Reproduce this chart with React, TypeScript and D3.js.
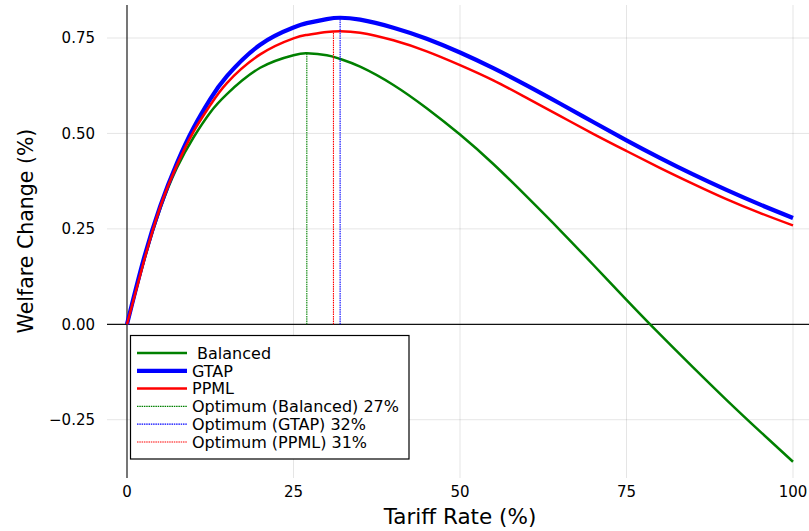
import React from "react";
import * as d3 from "d3";

const tariff = [0, 2.5, 5, 7.5, 10, 12.5, 15, 20, 25, 27, 30, 32, 35, 40, 45, 50, 55, 60, 65, 70, 75, 80, 85, 90, 95, 100];
const balanced = [0, 0.163, 0.303, 0.41, 0.49, 0.555, 0.603, 0.672, 0.705, 0.71, 0.705, 0.695, 0.675, 0.627, 0.566, 0.497, 0.42, 0.335, 0.247, 0.156, 0.064, -0.026, -0.113, -0.198, -0.28, -0.36];
const gtap = [0, 0.17, 0.31, 0.4225, 0.515, 0.59, 0.65, 0.7325, 0.7775, 0.789, 0.7995, 0.803, 0.798, 0.777, 0.748, 0.712, 0.671, 0.626, 0.5785, 0.53, 0.482, 0.436, 0.3925, 0.352, 0.314, 0.2785];
const ppml = [0, 0.163, 0.308, 0.417, 0.505, 0.574, 0.632, 0.707, 0.749, 0.758, 0.766, 0.768, 0.764, 0.744, 0.715, 0.679, 0.639, 0.593, 0.546, 0.499, 0.454, 0.41, 0.368, 0.328, 0.292, 0.259];
const optima = [
  { name: "Balanced", x: 27, y: 0.71, color: "#008000" },
  { name: "GTAP", x: 32, y: 0.803, color: "#0000ff" },
  { name: "PPML", x: 31, y: 0.768, color: "#ff0000" },
];
const xTicks = [0, 25, 50, 75, 100];
const yTicks = [-0.25, 0, 0.25, 0.5, 0.75];

const W = 809;
const H = 531;
const left = 107, right = 809, top = 5, bottom = 478;

export default function App() {
  const x = d3.scaleLinear().domain([0, 100]).range([127, 793]);
  const y = d3.scaleLinear().domain([0, 0.75]).range([324.3, 38]);
  const line = d3
    .line<number>()
    .x((_, i) => x(tariff[i]))
    .y((d) => y(d))
    .curve(d3.curveNatural);

  const series = [
    { name: "\u00a0Balanced", vals: balanced, color: "#008000", w: 2.5 },
    { name: "GTAP", vals: gtap, color: "#0000ff", w: 4.2 },
    { name: "PPML", vals: ppml, color: "#ff0000", w: 2.5 },
  ];
  const legendItems = [
    ...series.map((s) => ({ label: s.name, color: s.color, w: s.w, dash: "" })),
    ...optima.map((o) => ({
      label: `Optimum (${o.name}) ${o.x}%`,
      color: o.color,
      w: 1.2,
      dash: "1.5 0.8",
    })),
  ];
  const font = "DejaVu Sans, sans-serif";

  return (
    <svg width={W} height={H} style={{ position: "absolute", left: 0, top: 0, background: "#fff" }} fontFamily={font}>
      {/* grid */}
      {xTicks.map((t) => (
        <line key={"gx" + t} x1={x(t)} x2={x(t)} y1={top} y2={bottom} stroke="#000" strokeOpacity={0.1} strokeWidth={1} />
      ))}
      {yTicks.filter((t) => t !== 0).map((t) => (
        <line key={"gy" + t} x1={left} x2={right} y1={y(t)} y2={y(t)} stroke="#000" strokeOpacity={0.1} strokeWidth={1} />
      ))}
      {/* axes */}
      <line x1={x(0)} x2={x(0)} y1={top} y2={bottom} stroke="#333" strokeWidth={1.3} />
      <line x1={left} x2={right} y1={y(0)} y2={y(0)} stroke="#111" strokeWidth={1.3} />
      {xTicks.map((t) => (
        <text key={"tx" + t} x={x(t)} y={497} fontSize={15} textAnchor="middle" fill="#000">
          {t}
        </text>
      ))}
      {yTicks.map((t) => (
        <text key={"ty" + t} x={95} y={y(t)} dy="0.36em" fontSize={15} textAnchor="end" fill="#000">
          {t < 0 ? "\u2212" + Math.abs(t).toFixed(2) : t.toFixed(2)}
        </text>
      ))}
      <text x={460} y={524} fontSize={21.5} textAnchor="middle">
        Tariff Rate (%)
      </text>
      <text transform={`translate(33,231) rotate(-90)`} fontSize={20.5} textAnchor="middle">
        Welfare Change (%)
      </text>
      {/* curves */}
      {series.map((s) => (
        <path key={s.name} d={line(s.vals) || ""} fill="none" stroke={s.color} strokeWidth={s.w} strokeLinejoin="round" />
      ))}
      {optima.map((o) => (
        <line key={"v" + o.name} x1={x(o.x)} x2={x(o.x)} y1={y(0)} y2={y(o.y)} stroke={o.color} strokeWidth={1.1} strokeDasharray="1.5 0.8" />
      ))}
      {/* legend */}
      <rect x={130.5} y={335.5} width={278.5} height={123.5} fill="#fff" stroke="#000" strokeWidth={1.2} />
      {legendItems.map((it, i) => {
        const cy = 353 + i * 17.8;
        return (
          <g key={"l" + i}>
            <line x1={137} x2={187} y1={cy} y2={cy} stroke={it.color} strokeWidth={it.w} strokeDasharray={it.dash || undefined} />
            <text x={192} y={cy} dy="0.36em" fontSize={16} fill="#000">
              {it.label}
            </text>
          </g>
        );
      })}
    </svg>
  );
}
